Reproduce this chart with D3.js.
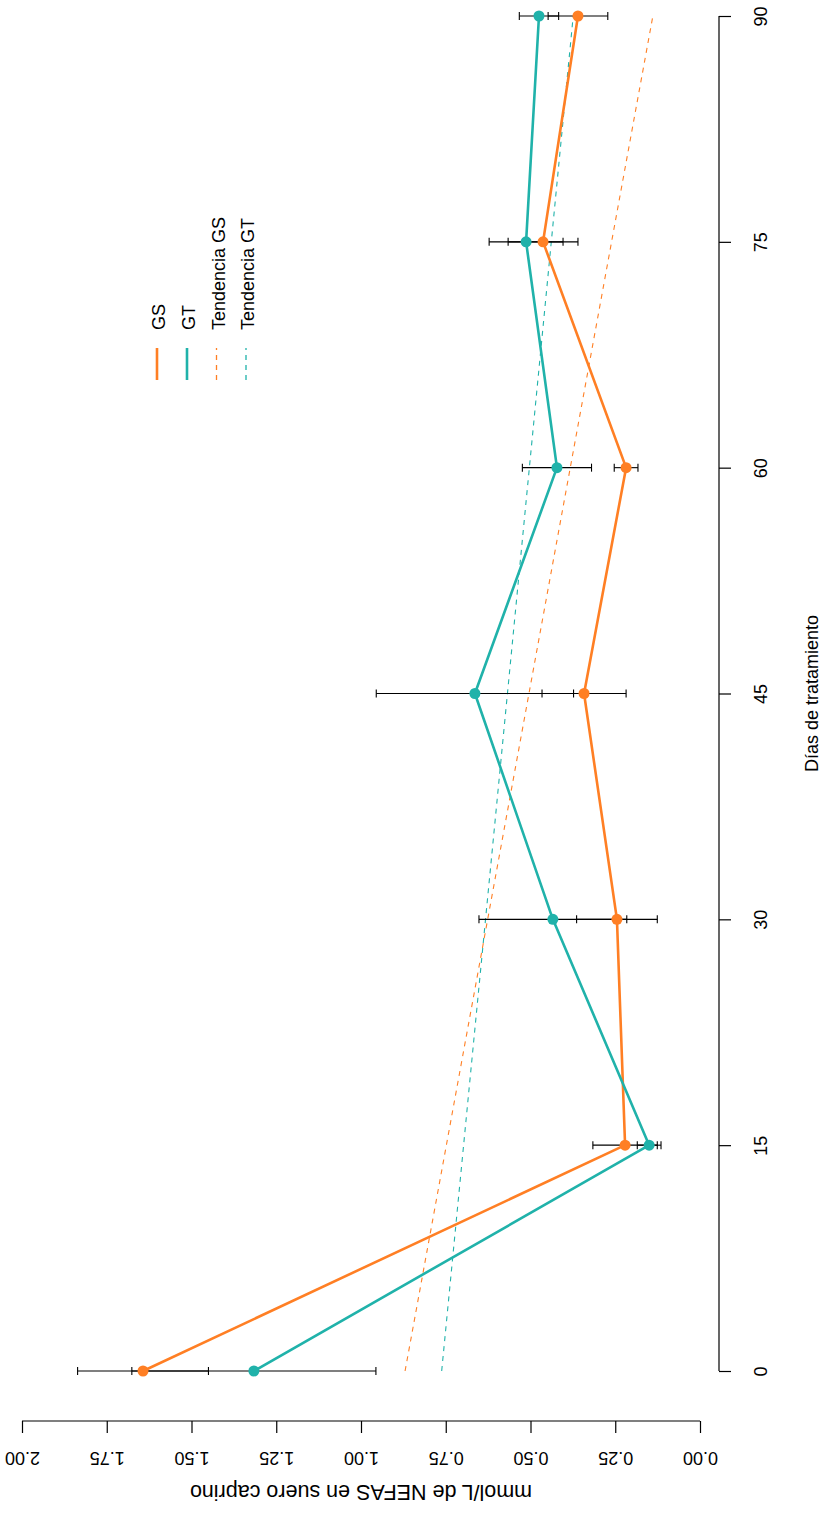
<!DOCTYPE html>
<html>
<head>
<meta charset="utf-8">
<script src="https://cdn.jsdelivr.net/npm/d3@7"></script>
<style>
  html, body { margin: 0; padding: 0; background: #ffffff; }
  svg { display: block; }
  text { font-family: "Liberation Sans", Arial, Helvetica, sans-serif; fill: #000; }
</style>
</head>
<body>
<div id="chart"></div>
<script>
// ---- data ----
const days = [0, 15, 30, 45, 60, 75, 90];
const gsMean = [1.643, 0.221, 0.245, 0.342, 0.218, 0.463, 0.360];
const gsErr  = [0.193, 0.095, 0.119, 0.124, 0.035, 0.103, 0.088];
const gtMean = [1.316, 0.150, 0.434, 0.664, 0.422, 0.513, 0.475];
const gtErr  = [0.360, 0.035, 0.218, 0.291, 0.102, 0.109, 0.058];
const trendDays = [0, 90];
const gsTrend = [0.870, 0.139];
const gtTrend = [0.762, 0.374];
const dayTicks = [0, 15, 30, 45, 60, 75, 90];
const valueTicks = [0, 0.25, 0.5, 0.75, 1, 1.25, 1.5, 1.75, 2];
const legendLabels = ["GS", "GT", "Tendencia GS", "Tendencia GT"];
const xTitle = "Días de tratamiento";
const yTitle = "mmol/L de NEFAS en suero caprino";

// ---- styling ----
const W = 827, H = 1517;
const orange = "#FF7F24", teal = "#20B2AA";
const fs = 18;
const fsYTitle = 21.5;

const svg = d3.select("#chart").append("svg")
  .attr("width", W).attr("height", H);

// chart is drawn rotated: days run bottom->top, values run right->left
const dayScale = d3.scaleLinear().domain([0, 90]).range([1371, 16]);
const valScale = d3.scaleLinear().domain([0, 2]).range([700, 22]);

// ---- day axis (right side) ----
const dayAxisX = 719;
const dayAxis = svg.append("g")
  .attr("transform", `translate(${dayAxisX},0)`)
  .call(d3.axisRight(dayScale).tickValues(dayTicks).tickSize(12).tickFormat(d3.format("d")));
dayAxis.select(".domain").attr("stroke", "#000").attr("stroke-width", 1.2)
  .attr("d", `M0,${dayScale(0)}V${dayScale(90)}`);
dayAxis.selectAll(".tick line").attr("stroke", "#000").attr("stroke-width", 1.2);
dayAxis.selectAll(".tick text")
  .attr("x", null).attr("dy", null)
  .attr("transform", `translate(${761 + 0.358 * fs - dayAxisX},0) rotate(-90)`)
  .attr("text-anchor", "middle")
  .style("font-size", fs + "px")
  .style("font-family", '"Liberation Sans", Arial, sans-serif');

// ---- value axis (bottom) ----
const valAxisY = 1421;
const valAxis = svg.append("g")
  .attr("transform", `translate(0,${valAxisY})`)
  .call(d3.axisBottom(valScale).tickValues(valueTicks).tickSize(12).tickFormat(d3.format(".2f")));
valAxis.select(".domain").attr("stroke", "#000").attr("stroke-width", 1.2)
  .attr("d", `M${valScale(0)},0H${valScale(2)}`);
valAxis.selectAll(".tick line").attr("stroke", "#000").attr("stroke-width", 1.2);
valAxis.selectAll(".tick text")
  .attr("y", null).attr("dy", null)
  .attr("transform", `translate(0,${1458 - 0.358 * fs - valAxisY}) rotate(180)`)
  .attr("text-anchor", "middle")
  .style("font-size", fs + "px")
  .style("font-family", '"Liberation Sans", Arial, sans-serif');

// ---- axis titles ----
svg.append("text")
  .attr("transform", `translate(${812 + 0.358 * fs},${dayScale(45)}) rotate(-90)`)
  .attr("text-anchor", "middle")
  .style("font-size", fs + "px")
  .text(xTitle);
svg.append("text")
  .attr("transform", `translate(${(valScale(0) + valScale(2)) / 2},${1493 - 0.358 * fsYTitle}) rotate(180)`)
  .attr("text-anchor", "middle")
  .style("font-size", fsYTitle + "px")
  .text(yTitle);

// ---- trend lines ----
const trendLine = d3.line().x(d => valScale(d[1])).y(d => dayScale(d[0]));
svg.append("path")
  .datum(trendDays.map((d, i) => [d, gsTrend[i]]))
  .attr("d", trendLine).attr("fill", "none")
  .attr("stroke", orange).attr("stroke-width", 1.1).attr("stroke-dasharray", "5,5");
svg.append("path")
  .datum(trendDays.map((d, i) => [d, gtTrend[i]]))
  .attr("d", trendLine).attr("fill", "none")
  .attr("stroke", teal).attr("stroke-width", 1.1).attr("stroke-dasharray", "5,5");

// ---- error bars ----
function errorBars(means, errs) {
  const g = svg.append("g");
  days.forEach((d, i) => {
    const y = dayScale(d);
    const x1 = valScale(means[i] - errs[i]);
    const x2 = valScale(means[i] + errs[i]);
    g.append("line").attr("x1", x1).attr("x2", x2).attr("y1", y).attr("y2", y)
      .attr("stroke", "#000").attr("stroke-width", 1.1);
    [x1, x2].forEach(x => {
      g.append("line").attr("x1", x).attr("x2", x).attr("y1", y - 4).attr("y2", y + 4)
        .attr("stroke", "#000").attr("stroke-width", 1.1);
    });
  });
}
errorBars(gsMean, gsErr);
errorBars(gtMean, gtErr);

// ---- series lines and points ----
const seriesLine = d3.line().x(d => valScale(d[1])).y(d => dayScale(d[0]));
function series(means, color) {
  const pts = days.map((d, i) => [d, means[i]]);
  svg.append("path").datum(pts).attr("d", seriesLine).attr("fill", "none")
    .attr("stroke", color).attr("stroke-width", 2.6).attr("stroke-linejoin", "round");
  svg.append("g").selectAll("circle").data(pts).join("circle")
    .attr("cx", d => valScale(d[1])).attr("cy", d => dayScale(d[0]))
    .attr("r", 5.5).attr("fill", color);
}
series(gsMean, orange);
series(gtMean, teal);

// ---- legend ----
const legendColors = [orange, teal, orange, teal];
const legendDash = [null, null, "5,5", "5,5"];
const legendX = [157, 187, 216.5, 246];
const leg = svg.append("g");
legendLabels.forEach((lab, i) => {
  leg.append("line")
    .attr("x1", legendX[i]).attr("x2", legendX[i])
    .attr("y1", 380).attr("y2", 348)
    .attr("stroke", legendColors[i])
    .attr("stroke-width", legendDash[i] ? 1.3 : 2.6)
    .attr("stroke-dasharray", legendDash[i]);
  leg.append("text")
    .attr("transform", `translate(${legendX[i] + 8},330) rotate(-90)`)
    .attr("text-anchor", "start")
    .style("font-size", fs + "px")
    .text(lab);
});
</script>
</body>
</html>
